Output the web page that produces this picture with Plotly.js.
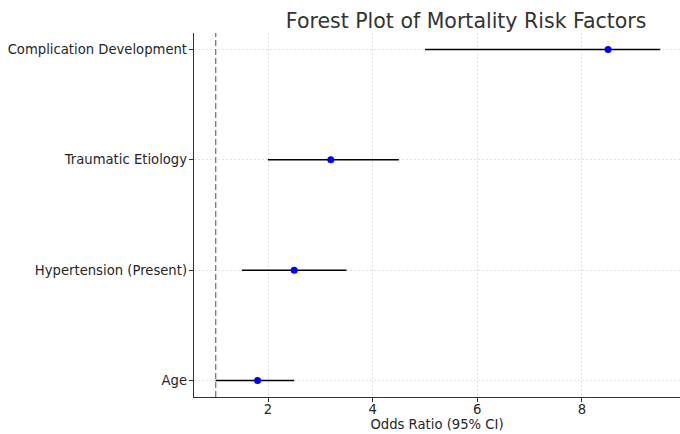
<!DOCTYPE html>
<html>
<head>
<meta charset="utf-8">
<script src="https://cdn.plot.ly/plotly-3.0.1.min.js"></script>
<style>html,body{margin:0;padding:0;background:#fff;}#chart{width:680px;height:434px;}</style>
</head>
<body>
<div id="chart"></div>
<script>
const factors = ["Age", "Hypertension (Present)", "Traumatic Etiology", "Complication Development"];
const oddsRatio = [1.8, 2.5, 3.2, 8.5];
const ciLower = [1.0, 1.5, 2.0, 5.0];
const ciUpper = [2.5, 3.5, 4.5, 9.5];
const xTicks = [2, 4, 6, 8];

const trace = {
  type: 'scatter',
  mode: 'markers',
  x: oddsRatio,
  y: factors,
  marker: {color: '#0000ff', size: 7},
  error_x: {
    type: 'data',
    symmetric: false,
    array: oddsRatio.map((v, i) => ciUpper[i] - v),
    arrayminus: oddsRatio.map((v, i) => v - ciLower[i]),
    color: '#000000',
    thickness: 1.5,
    width: 0
  },
  hoverinfo: 'x+y',
  showlegend: false
};

const layout = {
  width: 680, height: 434,
  margin: {l: 194, r: 0, t: 33, b: 37},
  paper_bgcolor: '#ffffff',
  plot_bgcolor: '#ffffff',
  font: {family: 'DejaVu Sans', size: 13.2, color: '#262626'},
  title: {
    text: 'Forest Plot of Mortality Risk Factors',
    font: {family: 'DejaVu Sans', size: 20.5, color: '#333333'},
    x: 0.56, xref: 'paper', xanchor: 'center',
    y: 0.952, yref: 'container', yanchor: 'middle'
  },
  xaxis: {
    range: [0.585, 9.875],
    tickvals: xTicks,
    ticktext: xTicks.map(String),
    showline: true, linecolor: '#333333', linewidth: 1.3,
    ticks: 'outside', ticklen: 4, tickcolor: '#333333', tickwidth: 1,
    ticklabelstandoff: -4,
    showgrid: true, gridcolor: '#d3d3d3', gridwidth: 0.7, griddash: '2px,2px',
    zeroline: false,
    title: {text: 'Odds Ratio (95% CI)', standoff: 3, font: {size: 13.2, color: '#262626'}},
    automargin: false
  },
  yaxis: {
    type: 'category',
    categoryorder: 'array',
    categoryarray: factors,
    range: [-0.15, 3.15],
    showline: true, linecolor: '#333333', linewidth: 1.3,
    ticks: 'outside', ticklen: 4, tickcolor: '#333333', tickwidth: 1,
    ticklabelstandoff: -1,
    showgrid: true, gridcolor: '#d3d3d3', gridwidth: 0.7, griddash: '2px,2px',
    zeroline: false,
    automargin: false
  },
  shapes: [{
    type: 'line', xref: 'x', yref: 'paper',
    x0: 1, x1: 1, y0: 0, y1: 1,
    line: {color: '#777777', width: 1.3, dash: '6px,3px'}
  }]
};

Plotly.newPlot('chart', [trace], layout, {displayModeBar: false, staticPlot: true});
</script>
</body>
</html>
